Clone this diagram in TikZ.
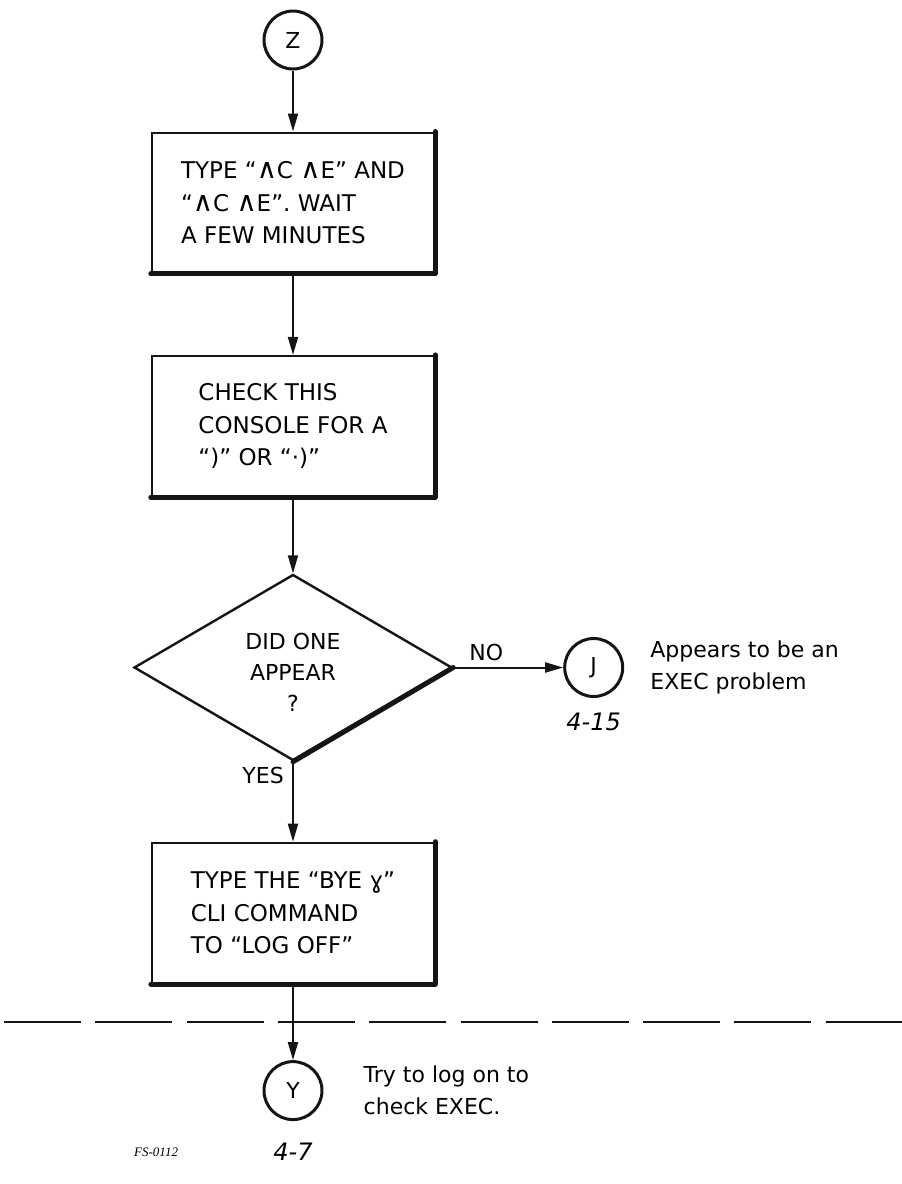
\documentclass[tikz,border=0pt]{standalone}
\usepackage{fontspec}
\setmainfont{DejaVu Sans}
\newfontfamily\symfont{DejaVu Sans}
\newfontfamily\tagfont{Liberation Serif}
\usepackage{xcolor}
\definecolor{cInk}{HTML}{151515}
\usepackage{tikz}
\usetikzlibrary{positioning,arrows.meta,shapes.geometric}
\newcommand{\ctrlkey}{\scalebox{1.2}{\symfont\char"2227}}
\newcommand{\nlkey}{{\symfont\char"0263}}
\tikzset{
  node-box/.style={draw=cInk,line width=2.4pt,minimum width=282pt,
    minimum height=140pt,inner sep=0pt,align=left,
    font=\fontsize{23}{32.5}\selectfont},
  node-dec/.style={draw=cInk,line width=2.4pt,diamond,aspect=1.7,
    minimum width=318pt,minimum height=186pt,inner sep=0pt,align=center,
    font=\fontsize{22}{31}\selectfont},
  node-link/.style={draw=cInk,line width=3pt,circle,minimum size=58pt,
    inner sep=0pt,font=\fontsize{22}{22}\selectfont},
  node-note/.style={align=left,inner sep=0pt,font=\fontsize{22}{32}\selectfont},
  node-page/.style={inner sep=0pt,font=\fontsize{24}{24}\selectfont\itshape},
  node-label/.style={inner sep=0pt,font=\fontsize{22}{22}\selectfont},
  edge-shadow/.style={draw=cInk,line width=5pt,line cap=round,line join=round},
  arrow/.style={-{Triangle[length=18pt,width=10pt]},line width=2pt,draw=cInk},
  cut-line/.style={draw=cInk,line width=2.8pt,dash pattern=on 77pt off 14.3pt},
}
\begin{document}
\begin{tikzpicture}[x=1pt,y=1pt,node distance=70pt]
  \useasboundingbox (0,0) rectangle (902,-1184);
  \node[node-link]                      (z)    at (293,-40) {Z};
  \node[node-box,below=61pt of z]       (wait) {TYPE ``\ctrlkey C \ctrlkey E'' AND\\
    ``\ctrlkey C \ctrlkey E''. WAIT\\A FEW MINUTES};
  \node[node-box,below=81pt of wait]    (look) {CHECK THIS\\CONSOLE FOR A\\
    ``)'' OR ``·)''};
  \node[node-dec,below=76pt of look]    (seen) {\mbox{}\\[-6pt]DID ONE\\APPEAR\\?};
  \node[node-link,right=110pt of seen]  (j)    {J};
  \node[node-box,below=80pt of seen]    (bye)  {TYPE THE ``BYE \nlkey''\\
    CLI COMMAND\\TO ``LOG OFF''};
  \node[node-link,below=76pt of bye]    (y)    {Y};
  % page references and remarks
  \node[node-page,below=15pt of j]      (pj)   {4-15};
  \node[node-page,below=22pt of y]      (py)   {4-7};
  \node[node-note,right=26pt of j]      (nj)   {Appears to be an\\EXEC problem};
  \node[node-note,right=40pt of y]      (ny)   {Try to log on to\\check EXEC.};
  \node[inner sep=0pt,font=\tagfont\fontsize{13}{13}\selectfont\itshape,
    left=95pt of py]                    (fs)   {FS-0112};
  \node[node-label,below left=5pt and 9pt of seen.south] (yes) {YES};
  % heavy edges
  \draw[edge-shadow] (wait.north east) -- (wait.south east) -- (wait.south west);
  \draw[edge-shadow] (look.north east) -- (look.south east) -- (look.south west);
  \draw[edge-shadow] (bye.north east) -- (bye.south east) -- (bye.south west);
  \draw[edge-shadow] (seen.east) -- (seen.south);
  \draw[cut-line] (4,-1022) -- (902,-1022);
  \draw[arrow] (z) -- (wait);
  \draw[arrow] (wait) -- (look);
  \draw[arrow] (look) -- (seen);
  \draw[arrow] (seen) -- node[node-label,above=6pt,pos=0.3]{NO} (j);
  \draw[arrow] (seen) -- (bye);
  \draw[arrow] (bye) -- (y);
\end{tikzpicture}
\end{document}
